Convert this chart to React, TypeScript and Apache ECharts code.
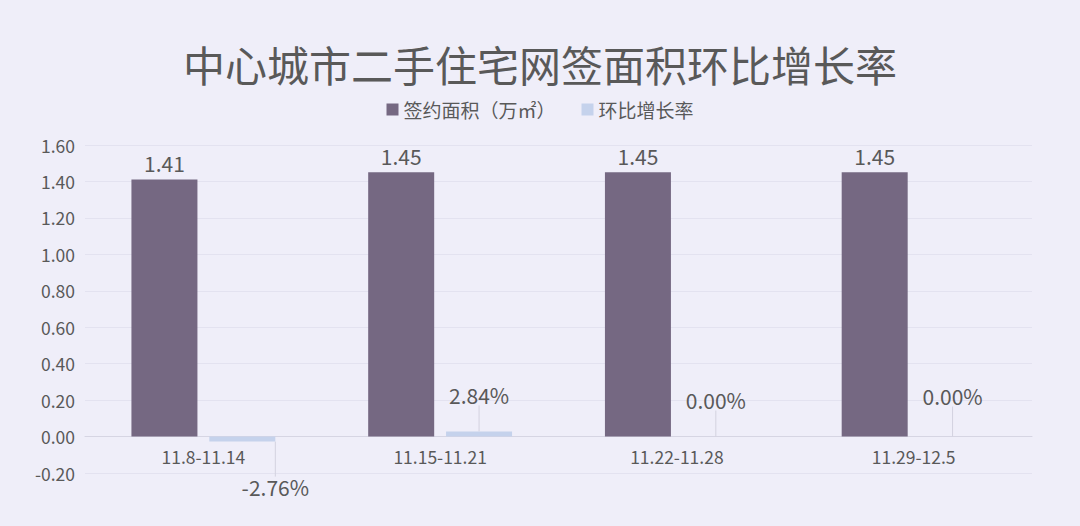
import { useEffect, useRef } from 'react';
import * as echarts from 'echarts';

const categories = ['11.8-11.14', '11.15-11.21', '11.22-11.28', '11.29-12.5'];
const areaValues = [1.41, 1.45, 1.45, 1.45];
const ratioPct = [-2.76, 2.84, 0.0, 0.0];
// label shifts for the ratio labels (with leader lines)
const ratioLabelShift = [
  { dx: 33, dy: 31 },
  { dx: 0, dy: -22 },
  { dx: 0, dy: -22 },
  { dx: 0, dy: -26 },
];

const FONT = '"Noto Sans CJK SC", "Noto Sans", sans-serif';
const TEXT = '#595959';

export default function App() {
  const chartRef = useRef<HTMLDivElement | null>(null);

  useEffect(() => {
    if (!chartRef.current) return;
    const chart = echarts.init(chartRef.current, undefined, { renderer: 'svg' });

    chart.setOption({
      animation: false,
      backgroundColor: '#efeef9',
      textStyle: { fontFamily: FONT },
      title: {
        text: '中心城市二手住宅网签面积环比增长率',
        left: 'center',
        top: 37,
        textStyle: { fontSize: 42, fontWeight: 'normal', color: TEXT, fontFamily: FONT },
      },
      legend: {
        top: 95,
        left: 'center',
        itemWidth: 12,
        itemHeight: 12,
        itemGap: 26,
        icon: 'rect',
        textStyle: { fontSize: 19, color: TEXT, fontFamily: FONT },
      },
      grid: { left: 85, right: 48, top: 145, bottom: 53, containLabel: false },
      xAxis: {
        type: 'category',
        data: categories,
        offset: -36.4,
        axisLine: { onZero: false, lineStyle: { color: '#d6d5e3', width: 1 } },
        axisTick: { show: false },
        axisLabel: {
          color: TEXT,
          fontSize: 17.5,
          margin: 11,
          fontFamily: FONT,
        },
      },
      yAxis: {
        type: 'value',
        min: -0.2,
        max: 1.6,
        interval: 0.2,
        axisLine: { show: false },
        axisTick: { show: false },
        splitLine: { lineStyle: { color: '#e3e2f0', width: 1 } },
        axisLabel: {
          color: TEXT,
          fontSize: 17.5,
          margin: 10,
          fontFamily: FONT,
          formatter: (v: number) => v.toFixed(2),
        },
      },
      series: [
        {
          name: '签约面积（万㎡）',
          type: 'bar',
          data: areaValues,
          barWidth: 66,
          barGap: '18%',
          itemStyle: { color: '#756882' },
          label: {
            show: true,
            position: 'top',
            distance: 6,
            fontSize: 21,
            color: TEXT,
            fontFamily: FONT,
            formatter: (p: any) => Number(p.value).toFixed(2),
          },
        },
        {
          name: '环比增长率',
          type: 'bar',
          data: ratioPct.map((v) => ({
            value: v / 100,
            label: { position: v < 0 ? 'bottom' : 'top' },
          })),
          barWidth: 66,
          itemStyle: { color: '#c5d2ec' },
          label: {
            show: true,
            distance: 4,
            fontSize: 21,
            color: TEXT,
            fontFamily: FONT,
            formatter: (p: any) => ratioPct[p.dataIndex].toFixed(2) + '%',
          },
          labelLine: {
            show: true,
            lineStyle: { color: '#d3d2df', width: 1 },
          },
          labelLayout: (p: any) => ratioLabelShift[p.dataIndex],
        },
      ],
    });

    return () => {
      chart.dispose();
    };
  }, []);

  return (
    <div
      ref={chartRef}
      style={{ position: 'fixed', left: 0, top: 0, width: 1080, height: 526 }}
    />
  );
}
